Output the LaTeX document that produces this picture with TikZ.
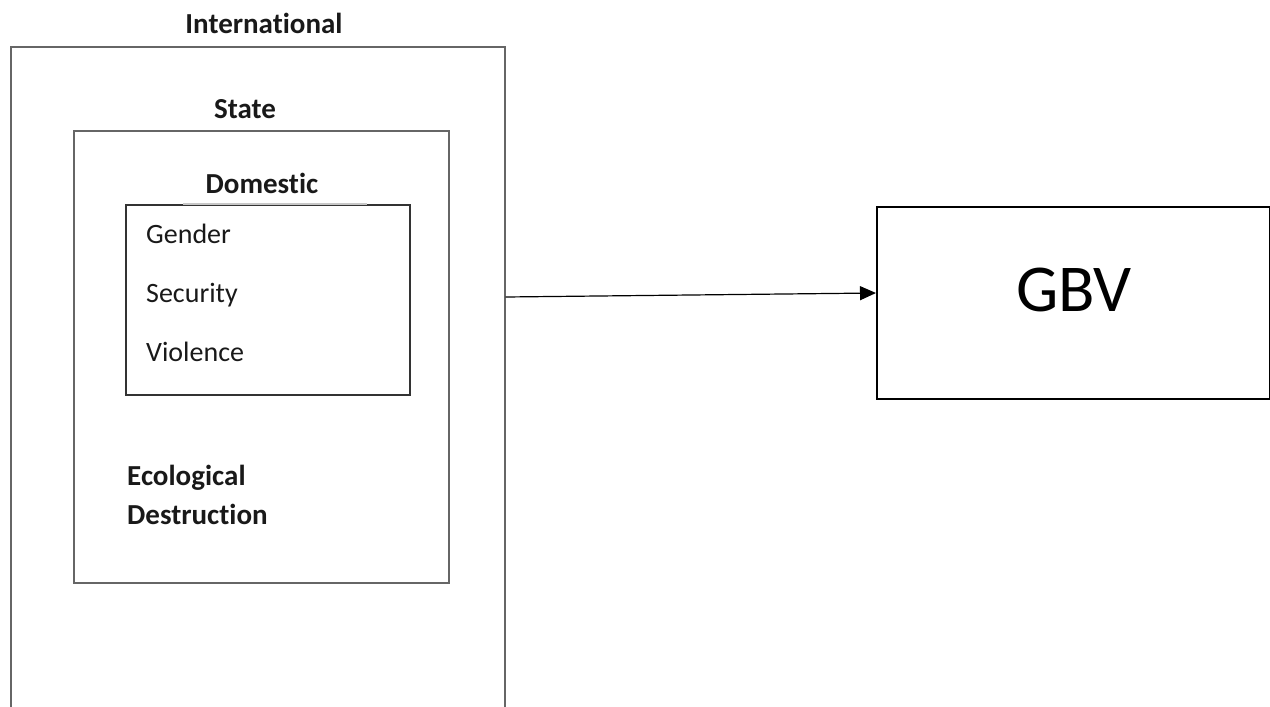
\documentclass[tikz,border=0pt]{standalone}
\usepackage{fontspec}
\setmainfont{Carlito}[Ligatures=CommonOff]
\usetikzlibrary{arrows.meta}
\begin{document}
\begin{tikzpicture}[x=1pt,y=-1pt,
  box/.style={draw, rectangle, inner sep=0pt, anchor=north west},
  graybox/.style={box, draw=black!60, line width=1.6pt},
  lbl/.style={inner sep=0pt, anchor=base, text=black!90, font=\bfseries\fontsize{29}{34}\selectfont},
  item/.style={inner sep=0pt, anchor=base west, text=black!90, font=\fontsize{28}{34}\selectfont}]
\useasboundingbox (0,0) rectangle (1270,707);
\clip (0,0) rectangle (1270,707);
% boxes
\node[graybox, minimum width=494pt, minimum height=700pt] (intl) at (10,46) {};
\node[graybox, minimum width=375pt, minimum height=452pt] (state) at (73,130) {};
\node[box, draw=black!80, line width=1.6pt, minimum width=284pt, minimum height=190pt] (dom) at (125,204) {};
\draw[draw=black!22, line width=1.8pt] (183,204) -- (367,204);
\node[box, line width=2.2pt, minimum width=393pt, minimum height=192pt] (gbv) at (876,206) {};
% labels
\node[lbl] (tintl) at (264,33) {International};
\node[lbl] (tstate) at (245,118) {State};
\node[lbl] (tdom) at (262,193) {Domestic};
\node[item] (gender) at (146,243) {Gender};
\node[item] (security) at (146,302) {Security};
\node[item] (violence) at (146,361) {Violence};
\node[lbl, anchor=base west] (eco) at (127,485) {Ecological};
\node[lbl, anchor=base west] (destr) at (127,524) {Destruction};
\node[inner sep=0pt, anchor=base, font=\fontsize{67}{80}\selectfont] (tgbv) at (1074,311) {GBV};
% arrow
\coordinate (s) at (intl.north east |- 0,297);
\coordinate (t) at (gbv.west |- 0,293);
\draw[line width=1.2pt, -{Triangle[length=16pt,width=14pt]}] (s) -- (t);
\end{tikzpicture}
\end{document}
